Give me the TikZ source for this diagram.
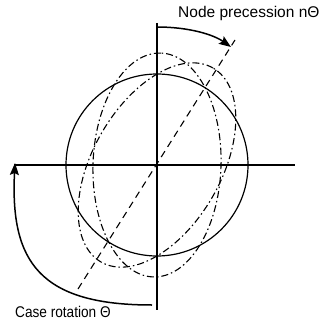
\documentclass[tikz,border=0pt]{standalone}
\usepackage{fontspec}
\setmainfont{Liberation Sans}
\usetikzlibrary{arrows.meta}
\begin{document}
\begin{tikzpicture}[x=1pt,y=-1pt,
  axis/.style={line width=2.1pt},
  ring/.style={line width=1.2pt},
  mode/.style={line width=1.1pt,dash pattern=on 7pt off 3pt on 1.5pt off 3pt},
  nodeline/.style={line width=1.1pt,dash pattern=on 7pt off 5pt},
  turn/.style={line width=1.5pt,-{Stealth[length=12pt,width=9pt,inset=2pt]}},
  label/.style={inner sep=0pt,font=\fontsize{15.5}{18}\selectfont}]
\useasboundingbox (0,0) rectangle (321,321);
\coordinate (O) at (157,165);
\coordinate (hl) at (14,165);
\coordinate (hr) at (295,165);
\coordinate (vt) at (157,23);
\coordinate (vb) at (157,310);
\coordinate (dl) at (78,289);
\coordinate (du) at (235,40);
\coordinate (ps) at (157,27);
\coordinate (pe) at (231,47);
\coordinate (cs) at (152,305);
\coordinate (ce) at (15,163);
% ring and mode shapes
\draw[ring] (O) circle[radius=91pt];
\draw[mode] (O) ellipse[x radius=112pt,y radius=64pt,rotate=88];
\draw[mode] (O) ellipse[x radius=112pt,y radius=64pt,rotate=60];
\draw[nodeline] (dl) -- (du);
% axes
\draw[axis] (hl) -- (hr);
\draw[axis] (vt) -- (vb);
% arrows
\draw[turn] (ps) .. controls (190,27) and (214,35) .. (pe);
\draw[turn] (cs) .. controls (40,305) and (10,262) .. (ce);
% labels
\node[label,anchor=base west] (prec) at (178,18) {Node precession nΘ};
\node[label,anchor=base west,xscale=0.88] (caserot) at (15,317.5) {Case rotation Θ};
\end{tikzpicture}
\end{document}
